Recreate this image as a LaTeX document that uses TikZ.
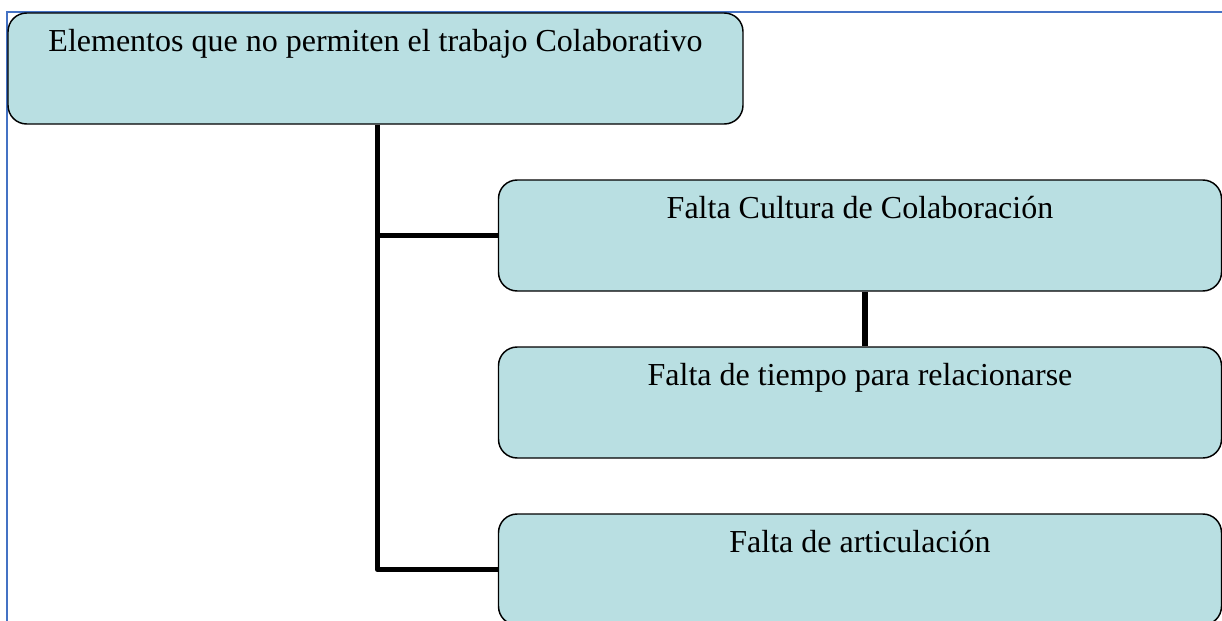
\documentclass[tikz,border=0pt]{standalone}
\usepackage{fontspec}
\setmainfont{Liberation Serif}
\definecolor{boxfill}{RGB}{185,223,226}
\definecolor{frameblue}{RGB}{68,114,196}

\begin{document}
\begin{tikzpicture}[x=0.75pt, y=-0.75pt, node distance={125.25pt},
        main/.style = {draw, line width=1.1pt, rounded corners=14pt, fill=boxfill, inner sep=0pt,
            text height=28.5pt, text depth=54.75pt, font=\fontsize{24}{28}\selectfont},
        conn/.style = {line width=4pt, line join=round}]
        \useasboundingbox (0,0) rectangle (1222,621);
        \draw[frameblue, line width=1.4pt] (7,621) -- (7,12) -- (1222,12);
        \node[main, minimum width=551.25pt] (E) at (375.5,68.5) {Elementos que no permiten el trabajo Colaborativo};
        \node[main, minimum width=542.25pt] (C) at (860,235.5) {Falta Cultura de Colaboración};
        \node[main, minimum width=542.25pt] (T) [below of=C] {Falta de tiempo para relacionarse};
        \node[main, minimum width=542.25pt] (A) [below of=T] {Falta de articulación};
        \draw[conn] ([xshift=1.5pt]E.south) |- (A.west);
        \draw[conn] ([xshift=1.5pt]E.south |- C.west) -- (C.west);
        \draw[conn] ([xshift=3.75pt]C.south) -- ([xshift=3.75pt]T.north);
    \end{tikzpicture}
\end{document}
